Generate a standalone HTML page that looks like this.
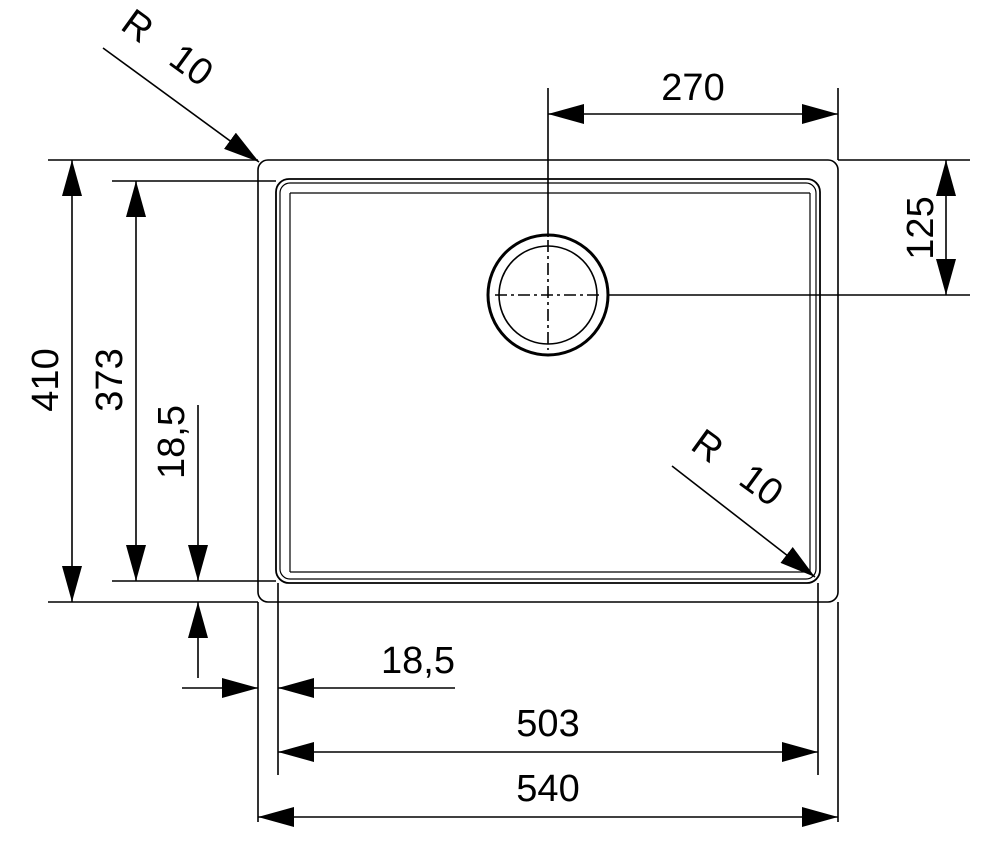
<!DOCTYPE html>
<html><head><meta charset="utf-8"><style>html,body{margin:0;padding:0;background:#fff}svg{display:block}</style></head>
<body>
<svg width="992" height="853" viewBox="0 0 992 853" xmlns="http://www.w3.org/2000/svg">
<defs>
<marker id="a" viewBox="0 0 36 20" refX="36" refY="10" markerWidth="36" markerHeight="20" markerUnits="userSpaceOnUse" orient="auto"><path d="M0 0L36 10L0 20Z" fill="#000"/></marker>
</defs>
<g fill="none" stroke="#000" stroke-width="1.6">
<rect x="258" y="160" width="580" height="442" rx="10"/>
<rect x="276" y="179" width="544" height="404" rx="13" stroke-width="1.8"/>
<rect x="280" y="183" width="536" height="396" rx="10" stroke-width="1.2"/>
<line x1="290" y1="193" x2="810" y2="193" stroke-width="1.2"/>
<line x1="290" y1="193" x2="290" y2="572" stroke-width="1.2"/>
<line x1="290" y1="572" x2="810" y2="572" stroke-width="1.2"/>
<line x1="810" y1="193" x2="810" y2="572" stroke-width="1.2"/>
<circle cx="548" cy="295" r="60" stroke-width="3"/>
<circle cx="548" cy="295" r="49" stroke-width="1.6"/>
<line x1="495" y1="295" x2="601" y2="295" stroke-dasharray="12,4,3,4"/>
<line x1="548" y1="240" x2="548" y2="350" stroke-dasharray="12,4,3,4"/>
<line x1="548" y1="88" x2="548" y2="237"/>
<line x1="608" y1="295" x2="970" y2="295"/>
<line x1="838" y1="88" x2="838" y2="160"/>
<line x1="693" y1="114" x2="548" y2="114" marker-end="url(#a)"/>
<line x1="693" y1="114" x2="838" y2="114" marker-end="url(#a)"/>
<line x1="838" y1="160" x2="970" y2="160"/>
<line x1="946" y1="228" x2="946" y2="160" marker-end="url(#a)"/>
<line x1="946" y1="228" x2="946" y2="295" marker-end="url(#a)"/>
<line x1="48" y1="160" x2="258" y2="160"/>
<line x1="48" y1="602" x2="258" y2="602"/>
<line x1="112" y1="181" x2="276" y2="181"/>
<line x1="112" y1="581" x2="276" y2="581"/>
<line x1="72" y1="380" x2="72" y2="160" marker-end="url(#a)"/>
<line x1="72" y1="380" x2="72" y2="602" marker-end="url(#a)"/>
<line x1="136" y1="380" x2="136" y2="181" marker-end="url(#a)"/>
<line x1="136" y1="380" x2="136" y2="581" marker-end="url(#a)"/>
<line x1="198" y1="405" x2="198" y2="581" marker-end="url(#a)"/>
<line x1="198" y1="678" x2="198" y2="602" marker-end="url(#a)"/>
<line x1="258" y1="602" x2="258" y2="822"/>
<line x1="838" y1="602" x2="838" y2="822"/>
<line x1="278" y1="583" x2="278" y2="775"/>
<line x1="818" y1="583" x2="818" y2="775"/>
<line x1="182" y1="688" x2="258" y2="688" marker-end="url(#a)"/>
<line x1="455" y1="688" x2="278" y2="688" marker-end="url(#a)"/>
<line x1="548" y1="752" x2="278" y2="752" marker-end="url(#a)"/>
<line x1="548" y1="752" x2="818" y2="752" marker-end="url(#a)"/>
<line x1="548" y1="817" x2="258" y2="817" marker-end="url(#a)"/>
<line x1="548" y1="817" x2="838" y2="817" marker-end="url(#a)"/>
<line x1="103" y1="48" x2="259" y2="162" marker-end="url(#a)"/>
<line x1="672" y1="466" x2="815" y2="577" marker-end="url(#a)"/>
</g>
<g font-family="Liberation Sans, sans-serif" font-size="38" fill="#000" text-anchor="middle">
<text x="693" y="100">270</text>
<text x="548" y="736">503</text>
<text x="548" y="801">540</text>
<text x="418" y="673">18,5</text>
<text transform="translate(933,228) rotate(-90)">125</text>
<text transform="translate(58,380) rotate(-90)">410</text>
<text transform="translate(122,380) rotate(-90)">373</text>
<text transform="translate(184,442) rotate(-90)">18,5</text>
<text transform="translate(160,58) rotate(36)" xml:space="preserve">R   10</text>
<text transform="translate(730,478) rotate(36)" xml:space="preserve">R   10</text>
</g>
</svg>
</body></html>
